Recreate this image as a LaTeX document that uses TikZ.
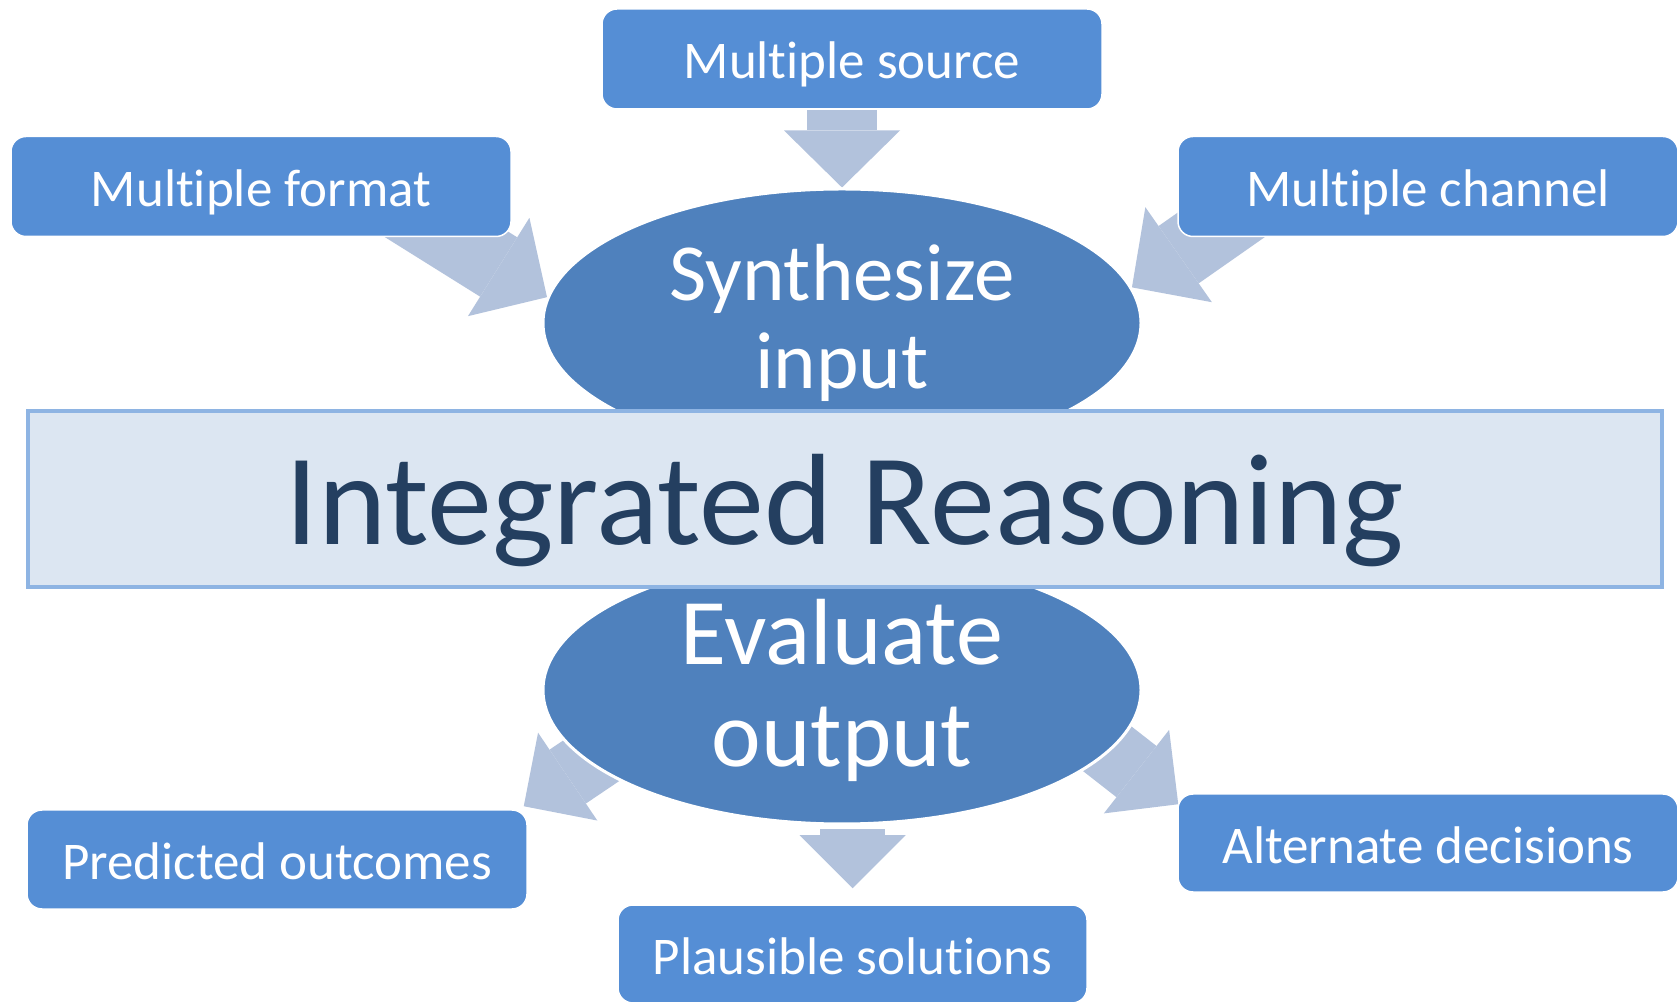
\documentclass[tikz,border=0pt]{standalone}
\usepackage{fontspec}
\setmainfont{Carlito}[Ligatures=CommonOff]
\usepackage{xcolor}
\usetikzlibrary{shapes.geometric,arrows.meta,calc,backgrounds}
\definecolor{boxblue}{RGB}{85,142,213}
\definecolor{ovalblue}{RGB}{79,129,189}
\definecolor{arrowblue}{RGB}{178,194,220}
\definecolor{bannerfill}{RGB}{220,230,242}
\definecolor{bannerline}{RGB}{142,180,227}
\definecolor{navy}{RGB}{36,63,96}

\begin{document}
\begin{tikzpicture}[x=1pt,y=1pt]
        \tikzset{itembox/.style={draw=white,line width=1.5pt,fill=boxblue,rounded corners=15pt,
                text=white,font=\fontsize{53}{64}\selectfont,text height=40pt,text depth=0pt,
                minimum width=500pt,minimum height=100pt},
            oval/.style={ellipse,draw=white,line width=3pt,fill=ovalblue,text=white,
                minimum width=598pt,minimum height=268pt,inner sep=0pt,align=center},
            banner/.style={draw=bannerline,line width=4pt,fill=bannerfill,text=navy,
                text height=92pt,text depth=0pt,
                minimum width=1634pt,minimum height=176pt,font=\fontsize{130}{150}\selectfont},
            bigarrow/.style={draw=arrowblue,line width=70pt,
                -{Triangle[length=57pt,width=116pt,line width=0pt]}},
            smallarrow/.style={draw=arrowblue,line width=65pt,
                -{Triangle[length=53pt,width=106pt,line width=0pt]}}}
        \useasboundingbox (0,0) rectangle (1677,1001);
        \node[itembox] (src) at (852,942) {Multiple source};
        \node[itembox] (format) at (261,814.5) {Multiple format};
        \node[itembox] (channel) at (1428,814.5) {Multiple channel};
        \node[itembox,minimum height=99pt] (pred) at (277,141.5) {Predicted outcomes};
        \node[itembox,minimum height=98pt] (alt) at (1428,158) {Alternate decisions};
        \node[itembox,minimum width=469pt,minimum height=98pt] (plaus) at (852.5,47) {Plausible solutions};
        \node[oval,font=\fontsize{81}{88}\selectfont] (synth) at (842,678) {Synthesize\\input};
        \node[oval,font=\fontsize{94}{102}\selectfont] (eval) at (842,311) {Evaluate\\output};
        \node[banner] (ir) at (845,502) {Integrated Reasoning};
        \coordinate (fmt-tail) at ($(synth.175)+(148:188)$);
        \coordinate (chn-tail) at ($(synth.7)+(35:168)$);
        \coordinate (pred-tip) at ($(pred.north east)+(-4,3)$);
        \coordinate (pred-tail) at ($(pred-tip)+(34:123)$);
        \coordinate (alt-tip) at ($(alt.north west)+(1,-11)$);
        \coordinate (alt-tail) at ($(alt-tip)+(142:123)$);
        \coordinate (pl-tail) at ($(eval.south -| plaus.north)+(0,-4)$);
        \coordinate (pl-tip) at ($(plaus.north)+(0,16)$);
        \begin{scope}[on background layer]
            \draw[bigarrow] (src.south -| synth.north) -- (synth.north);
            \draw[bigarrow] (fmt-tail) -- (synth.175);
            \draw[bigarrow] (chn-tail) -- (synth.7);
            \draw[smallarrow] (pred-tail) -- (pred-tip);
            \draw[smallarrow] (alt-tail) -- (alt-tip);
            \draw[smallarrow] (pl-tail) -- (pl-tip);
        \end{scope}
    \end{tikzpicture}
\end{document}
